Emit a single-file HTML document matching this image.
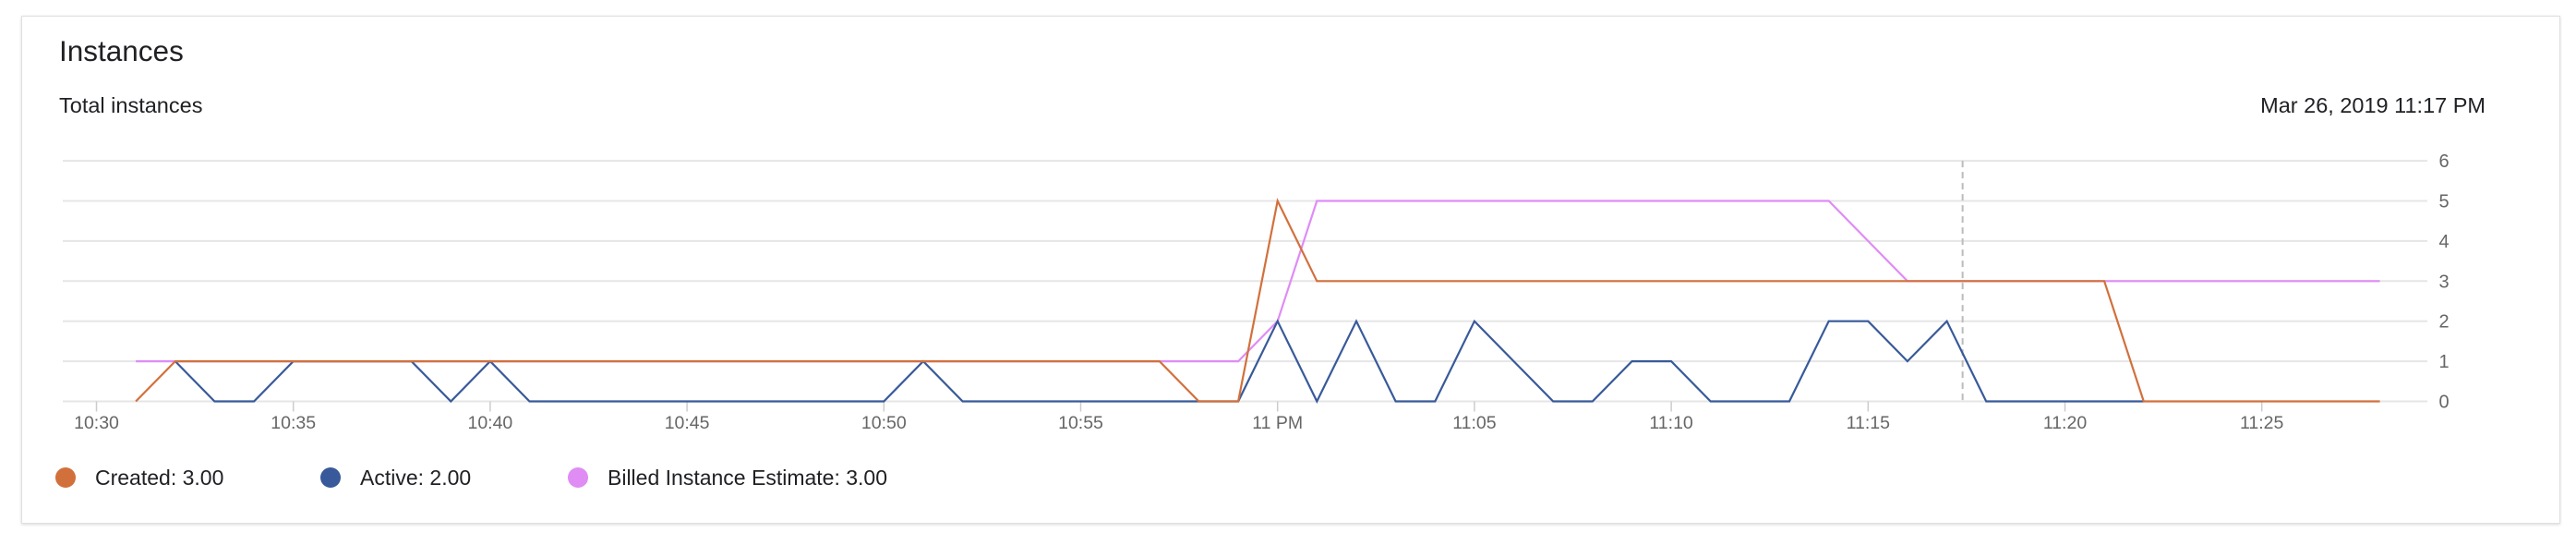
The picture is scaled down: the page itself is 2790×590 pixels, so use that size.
<!DOCTYPE html>
<html><head><meta charset="utf-8"><style>
html,body{margin:0;padding:0;background:#fff;width:2790px;height:590px;overflow:hidden;font-family:"Liberation Sans",Arial,sans-serif;}
#card{position:absolute;left:23px;top:17px;width:2748px;height:548px;border:1px solid #e0e0e0;box-shadow:0 1px 3px rgba(0,0,0,0.15);background:#fff;}
</style></head><body>
<div id="card"></div>
<svg id="chart" width="2790" height="590" style="position:absolute;left:0;top:0">
<text x="64" y="66" font-size="31.5" fill="#202124">Instances</text>
<text x="64" y="122" font-size="23.5" fill="#202124">Total instances</text>
<text x="2692" y="122" font-size="23.5" fill="#202124" text-anchor="end">Mar 26, 2019 11:17 PM</text>
<g id="grid"></g><g id="series"></g><g id="legend"></g>
</svg>
<script>
const yTicks=[0,1,2,3,4,5,6];
const xTickMinutes=[0,5,10,15,20,25,30,35,40,45,50,55];
const xTickLabels=["10:30","10:35","10:40","10:45","10:50","10:55","11 PM","11:05","11:10","11:15","11:20","11:25"];
const createdMinutes=[1,2,27,28,29,30,31,51,52,58];
const createdValues=[0,1,1,0,0,5,3,3,0,0];
const activeMinutes=[2,3,4,5,8,9,10,11,20,21,22,29,30,31,32,33,34,35,36,37,38,39,40,41,42,43,44,45,46,47,48,52];
const activeValues=[1,0,0,1,1,0,1,0,0,1,0,0,2,0,2,0,0,2,1,0,0,1,1,0,0,0,2,2,1,2,0,0];
const billedMinutes=[1,29,30,31,44,46,58];
const billedValues=[1,1,2,5,5,3,3];
const cursorMinute=47.4;
const legendLabels=["Created: 3.00","Active: 2.00","Billed Instance Estimate: 3.00"];

const NS="http://www.w3.org/2000/svg";
const X0=104.5,PX_PER_MIN=42.64,Y0=434.5,PX_PER_UNIT=43.4,GL=68,GR=2629;
function xs(m){return X0+m*PX_PER_MIN;}
function ys(v){return Y0-v*PX_PER_UNIT;}
function mk(tag,attrs,parent){const e=document.createElementNS(NS,tag);for(const k in attrs)e.setAttribute(k,attrs[k]);parent.appendChild(e);return e;}
const grid=document.getElementById('grid');
yTicks.forEach(v=>{
  const l=mk('line',{x1:GL,x2:GR,y1:ys(v),y2:ys(v),stroke:'#e6e6e6','stroke-width':2},grid);
  
  
  const t=mk('text',{x:2647,y:ys(v)+7,'font-size':20,fill:'#666','text-anchor':'middle'},grid);
  t.textContent=v;
  
  
});
xTickMinutes.forEach((m,i)=>{
  const l=mk('line',{x1:xs(m),x2:xs(m),y1:Y0,y2:Y0+11,stroke:'#ccc','stroke-width':1.5},grid);
  
  
  const t=mk('text',{x:xs(m),y:464,'font-size':19.5,fill:'#666','text-anchor':'middle'},grid);
  t.textContent=xTickLabels[i];
  
  
});
const cur=mk('line',{x1:xs(cursorMinute),x2:xs(cursorMinute),y1:ys(6),y2:Y0,stroke:'#bbb','stroke-width':2,'stroke-dasharray':'7,5'},grid);


const ser=document.getElementById('series');
function line(ms,vs,color,name){
  const pts=ms.map((m,i)=>xs(m).toFixed(1)+','+ys(vs[i]).toFixed(1)).join(' ');
  const p=mk('polyline',{points:pts,fill:'none',stroke:color,'stroke-width':2.2,'stroke-linejoin':'miter'},ser);
  
  
}
line(billedMinutes,billedValues,'#df8cf5','billed-series-line');
line(activeMinutes,activeValues,'#385a9a','active-series-line');
line(createdMinutes,createdValues,'#d2703c','created-series-line');
const leg=document.getElementById('legend');
const legColors=['#d2703c','#385a9a','#df8cf5'];
const legX=[71,358,626];
const legNames=['legend-created','legend-active','legend-billed'];
legendLabels.forEach((s,i)=>{
  const g=mk('g',{},leg);
  
  
  const c=mk('circle',{cx:legX[i],cy:517,r:11,fill:legColors[i]},g);
  
  
  const t=mk('text',{x:legX[i]+32,y:525,'font-size':23,fill:'#202124'},g);
  t.textContent=s;
  
  
});
</script>
</body></html>
